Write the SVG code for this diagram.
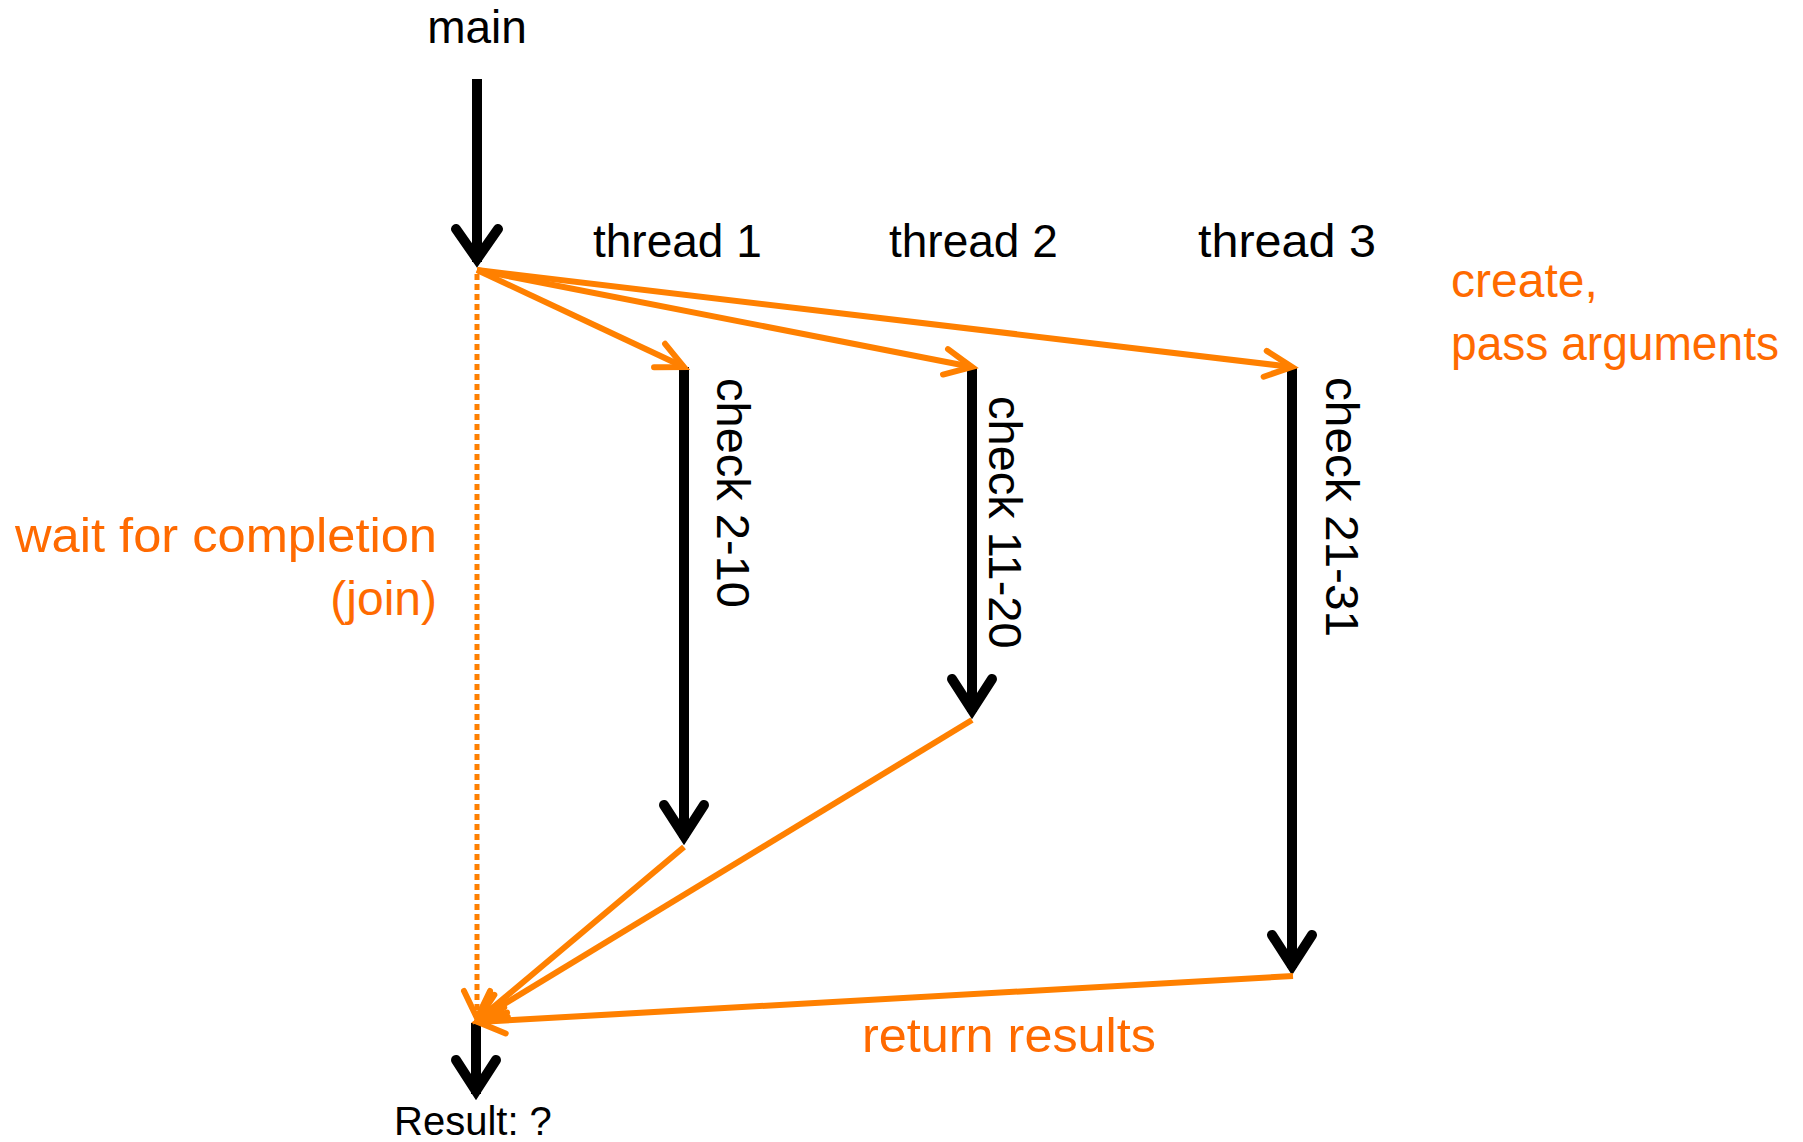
<svg xmlns="http://www.w3.org/2000/svg" width="1803" height="1142" viewBox="0 0 1803 1142">
<style>
  .lbl { font-family: "Liberation Sans", Arial, sans-serif; font-size: 46px; fill: #000; }
  .olbl { font-family: "Liberation Sans", Arial, sans-serif; font-size: 48px; fill: #FF6A00; }
  .vlbl { font-family: "Liberation Sans", Arial, sans-serif; font-size: 47px; fill: #000; }
  .bar { stroke: #000; stroke-width: 10; fill: none; }
  .head { stroke: #000; stroke-width: 10; fill: none; stroke-linecap: round; stroke-linejoin: miter; }
  .orange { stroke: #FF8000; stroke-width: 6; fill: none; }
  .dotted { stroke: #FF8000; stroke-width: 5; fill: none; stroke-dasharray: 6 4; }
</style>
<defs>
  <marker id="oarrow" markerUnits="userSpaceOnUse" viewBox="-34 -20 40 40" refX="0" refY="0" markerWidth="40" markerHeight="40" orient="auto" overflow="visible">
    <path d="M -27 -13 L 0 0 L -27 13" stroke="#FF8000" stroke-width="6" fill="none" stroke-linecap="round"/>
  </marker>
</defs>
<rect width="1803" height="1142" fill="#fff"/>

<g id="main">
  <text class="lbl" x="477" y="43" text-anchor="middle">main</text>
  <line class="bar" x1="477" y1="79" x2="477" y2="262"/>
  <path class="head" d="M 456 229 L 477 259 L 498 229"/>
</g>

<g id="thread1">
  <text class="lbl" x="593" y="257">thread 1</text>
  <line class="bar" x1="684" y1="367" x2="684" y2="838"/>
  <path class="head" d="M 664 805 L 684 836 L 704 805"/>
  <text class="vlbl" transform="translate(717,378) rotate(90)">check 2-10</text>
</g>

<g id="thread2">
  <text class="lbl" x="889" y="257">thread 2</text>
  <line class="bar" x1="972" y1="367" x2="972" y2="712"/>
  <path class="head" d="M 952 679 L 972 710 L 992 679"/>
  <text class="vlbl" transform="translate(989,396) rotate(90)">check 11-20</text>
</g>

<g id="thread3">
  <text class="lbl" x="1198" y="257" textLength="178" lengthAdjust="spacingAndGlyphs">thread 3</text>
  <line class="bar" x1="1292" y1="367" x2="1292" y2="968"/>
  <path class="head" d="M 1272 935 L 1292 966 L 1312 935"/>
  <text class="vlbl" transform="translate(1326,377) rotate(90)" textLength="260" lengthAdjust="spacingAndGlyphs">check 21-31</text>
</g>

<g id="result">
  <line class="bar" x1="476" y1="1023" x2="476" y2="1094"/>
  <path class="head" d="M 456 1060 L 476 1091 L 496 1060"/>
  <text class="lbl" x="394" y="1135" style="font-size:40px">Result: ?</text>
</g>

<g id="notes">
  <text class="olbl" x="1451" y="297">create,</text>
  <text class="olbl" x="1451" y="360" textLength="328" lengthAdjust="spacingAndGlyphs">pass arguments</text>
  <text class="olbl" x="15" y="552" textLength="422" lengthAdjust="spacingAndGlyphs">wait for completion</text>
  <text class="olbl" x="437" y="615" text-anchor="end">(join)</text>
  <text class="olbl" x="862" y="1052" textLength="294" lengthAdjust="spacingAndGlyphs">return results</text>
</g>

<g id="connectors">
  <line class="dotted" x1="477" y1="274" x2="477" y2="1018" marker-end="url(#oarrow)"/>
  <line class="orange" x1="477" y1="270" x2="684" y2="367" marker-end="url(#oarrow)"/>
  <line class="orange" x1="477" y1="270" x2="972" y2="367" marker-end="url(#oarrow)"/>
  <line class="orange" x1="477" y1="270" x2="1292" y2="367" marker-end="url(#oarrow)"/>
  <line class="orange" x1="684" y1="847" x2="478" y2="1020" marker-end="url(#oarrow)"/>
  <line class="orange" x1="972" y1="720" x2="478" y2="1020" marker-end="url(#oarrow)"/>
  <line class="orange" x1="1293" y1="976" x2="478" y2="1022" marker-end="url(#oarrow)"/>
</g>
</svg>
